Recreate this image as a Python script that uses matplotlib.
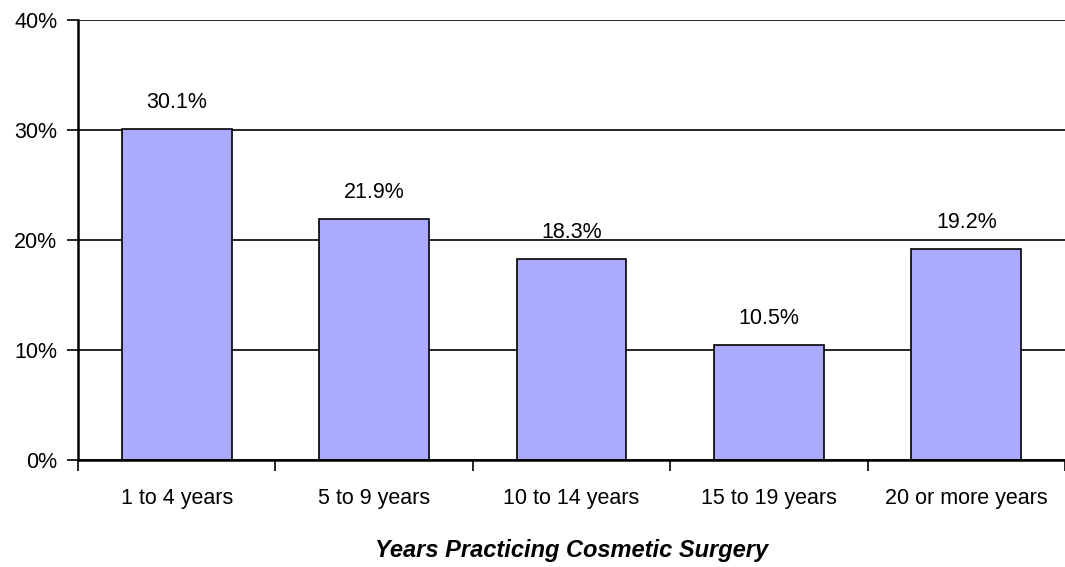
import matplotlib
matplotlib.use("Agg")
import matplotlib.pyplot as plt
import numpy as np

categories = ["1 to 4 years", "5 to 9 years", "10 to 14 years", "15 to 19 years", "20 or more years"]
values = [30.1, 21.9, 18.3, 10.5, 19.2]
yticks = [0, 10, 20, 30, 40]

plt.rcParams['font.family'] = ['Liberation Sans', 'DejaVu Sans']

fig = plt.figure(figsize=(10.65, 5.67), dpi=100)
ax = fig.add_axes([78 / 1065, 107 / 567, 1 - 78 / 1065, 440 / 567])

x = np.arange(len(categories))
ax.bar(x, values, width=0.557, color="#aaaaff", edgecolor="black", linewidth=1.2, zorder=3)
for xi, v in zip(x, values):
    ax.text(xi, v + 2.4, "{:.1f}%".format(v), ha="center", va="center", fontsize=15.5)

ax.set_xlim(-0.5, len(categories) - 0.5)
ax.set_ylim(0, 40)
ax.set_yticks(yticks)
ax.set_yticklabels(["{}%".format(t) for t in yticks], fontsize=15.5)
ax.yaxis.grid(True, color="black", linewidth=1.2, zorder=0)
ax.tick_params(axis="y", length=8, width=1.2, pad=7)

# category labels without ticks, separator ticks between categories
ax.set_xticks(x)
ax.set_xticklabels(categories, fontsize=15.5)
ax.tick_params(axis="x", which="major", length=0, pad=20)
ax.set_xticks(np.arange(-0.5, len(categories)), minor=True)
ax.tick_params(axis="x", which="minor", length=8, width=1.2)

ax.set_xlabel("Years Practicing Cosmetic Surgery", fontsize=17, fontweight="bold",
              fontstyle="italic", labelpad=22)

for side in ("top", "right"):
    ax.spines[side].set_visible(False)
for side in ("left", "bottom"):
    ax.spines[side].set_linewidth(1.8)
    ax.spines[side].set_zorder(4)

fig.savefig("out.png", dpi=100)
